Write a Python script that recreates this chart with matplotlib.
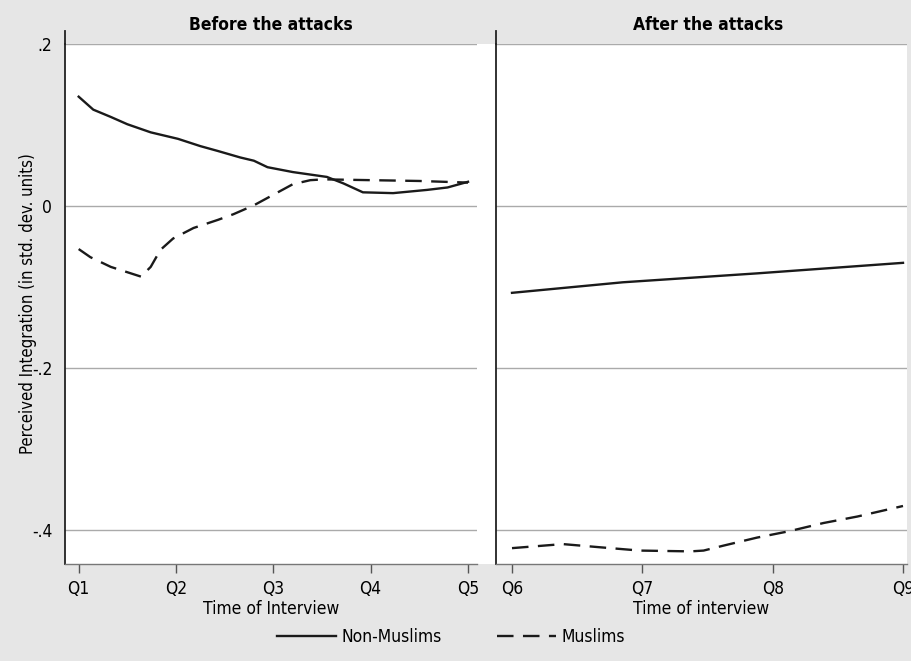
import matplotlib
matplotlib.use("Agg")
import matplotlib.pyplot as plt
from matplotlib.lines import Line2D
from matplotlib.patches import Rectangle

plt.rcParams['font.family'] = ['DejaVu Sans']
plt.rcParams['font.stretch'] = 'condensed'

# before the attacks (Q1-Q5)
pre_q_nonmus = [1.0, 1.15, 1.33, 1.5, 1.74, 2.02, 2.25, 2.43, 2.66, 2.8, 2.94, 3.2, 3.55, 3.72, 3.92, 4.23, 4.58, 4.79, 5.0]
pre_nonmus = [0.135, 0.119, 0.110, 0.101, 0.091, 0.083, 0.074, 0.068, 0.060, 0.056, 0.048, 0.042, 0.036, 0.028, 0.017, 0.016, 0.020, 0.023, 0.030]
pre_q_mus = [1.0, 1.12, 1.33, 1.64, 1.74, 1.84, 1.97, 2.18, 2.43, 2.59, 2.8, 3.0, 3.2, 3.38, 3.52, 4.0, 4.5, 5.0]
pre_mus = [-0.053, -0.063, -0.075, -0.087, -0.075, -0.054, -0.040, -0.027, -0.017, -0.010, 0.001, 0.014, 0.027, 0.032, 0.033, 0.032, 0.031, 0.029]

# after the attacks (Q6-Q9)
post_q_nonmus = [6.0, 6.85, 7.88, 9.0]
post_nonmus = [-0.107, -0.094, -0.083, -0.070]
post_q_mus = [6.0, 6.39, 6.68, 6.98, 7.37, 7.47, 7.62, 7.88, 8.13, 8.39, 8.65, 9.0]
post_mus = [-0.422, -0.417, -0.421, -0.425, -0.426, -0.425, -0.419, -0.409, -0.401, -0.391, -0.383, -0.370]

left_ticks = [1, 2, 3, 4, 5]
left_labels = ['Q1', 'Q2', 'Q3', 'Q4', 'Q5']
right_ticks = [6, 7, 8, 9]
right_labels = ['Q6', 'Q7', 'Q8', 'Q9']
yticks = [0.2, 0, -0.2, -0.4]
ylabels = ['.2', '0', '-.2', '-.4']

W, H = 911, 661
bg = '#e6e6e6'
fig = plt.figure(figsize=(W / 100, H / 100), dpi=100)
fig.patch.set_facecolor(bg)

def fx(px):
    return px / W

def fy(py):
    return 1 - py / H

top, bot = 44, 563.7
# white plot region spans both panels
fig.patches.append(Rectangle((fx(64.7), fy(bot)), fx(907 - 64.7), (bot - top) / H,
                             transform=fig.transFigure, facecolor='white', edgecolor='none', zorder=-5))

ax1 = fig.add_axes([fx(64.7), fy(bot), fx(477 - 64.7), (bot - top) / H])
ax2 = fig.add_axes([fx(496), fy(bot), fx(907 - 496), (bot - top) / H])

lc = '#1a1a1a'
fs = 12.5
for ax in (ax1, ax2):
    ax.set_facecolor('none')
    ax.set_ylim(-0.4412, 0.2)
    for s in ('top', 'right'):
        ax.spines[s].set_visible(False)
    ax.spines['left'].set_color('#222222')
    ax.spines['left'].set_linewidth(1.3)
    ax.spines['bottom'].set_color('#777777')
    ax.spines['bottom'].set_linewidth(1.0)
    ax.set_yticks(yticks)
    ax.tick_params(axis='y', length=0, pad=9, labelsize=fs)
    ax.tick_params(axis='x', length=6.5, width=1, color='#555555', pad=5, labelsize=fs)
    ax.grid(axis='y', color='#aaaaaa', linewidth=1.0)
    ax.set_axisbelow(True)
    ax.plot([0, 0], [1, 1 + 13 / (bot - top)], transform=ax.transAxes,
            color='#222222', lw=1.3, clip_on=False)

ax1.set_xlim(1 - 14 / 97.5, 5 + 9 / 97.5)
ax1.set_xticks(left_ticks)
ax1.set_xticklabels(left_labels)
ax1.set_yticklabels(ylabels)
ax1.plot(pre_q_nonmus, pre_nonmus, color=lc, lw=1.7)
ax1.plot(pre_q_mus, pre_mus, color=lc, lw=1.7, dashes=(7, 4))
ax1.set_xlabel('Time of Interview', fontsize=fs, labelpad=2)
ax1.set_ylabel('Perceived Integration (in std. dev. units)', fontsize=12, labelpad=-4)

ax2.set_xlim(6 - 16 / 130.33, 9 + 4 / 130.33)
ax2.set_xticks(right_ticks)
ax2.set_xticklabels(right_labels)
ax2.set_yticklabels([])
ax2.plot(post_q_nonmus, post_nonmus, color=lc, lw=1.7)
ax2.plot(post_q_mus, post_mus, color=lc, lw=1.7, dashes=(7, 4))
ax2.set_xlabel('Time of interview', fontsize=fs, labelpad=2)

ax1.text(0.5, 1 + 19 / (bot - top), 'Before the attacks', transform=ax1.transAxes,
         ha='center', va='center', fontsize=fs, fontweight='bold')
ax2.text(0.515, 1 + 19 / (bot - top), 'After the attacks', transform=ax2.transAxes,
         ha='center', va='center', fontsize=fs, fontweight='bold')

handles = [Line2D([], [], color=lc, lw=1.7),
           Line2D([], [], color=lc, lw=1.7, dashes=(7, 4))]
fig.legend(handles, ['Non-Muslims', 'Muslims'], loc='center', bbox_to_anchor=(fx(451), fy(637)),
           ncol=2, frameon=False, fontsize=fs, handlelength=3.4, handletextpad=0.3,
           columnspacing=3.2)

fig.savefig('out.png', dpi=100, facecolor=bg)
